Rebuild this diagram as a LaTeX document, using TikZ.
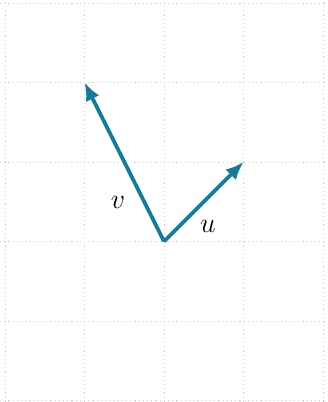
\documentclass[tikz,border=0pt]{standalone}
\usepackage{fix-cm}
\usetikzlibrary{arrows.meta}
\definecolor{vec}{RGB}{22,122,152}
\definecolor{gridc}{RGB}{205,205,205}
\begin{document}
\begin{tikzpicture}[x=1pt,y=1pt,
  gridline/.style={draw=gridc,line width=0.9pt,dash pattern=on 1.2pt off 3pt},
  vecline/.style={draw=vec,line width=3.8pt,-{Latex[length=18pt,width=15pt]}},
  lbl/.style={font=\fontsize{28}{32}\selectfont}]
\useasboundingbox (0,0) rectangle (327,402);
\foreach \x in {5,84.5,164,243.5,323}
  \draw[gridline] (\x,0) -- (\x,402);
\foreach \y in {1.5,81,160.5,240,319.5,399}
  \draw[gridline] (0,\y) -- (327,\y);
\coordinate (O) at (164,160.5);
\coordinate (U) at (243.5,240);
\coordinate (V) at (84.5,319.5);
\draw[vecline] (O) -- (U);
\draw[vecline] (O) -- (V);
\node[lbl] (lv) at (118,200) {$v$};
\node[lbl] (lu) at (208,176) {$u$};
\end{tikzpicture}
\end{document}
